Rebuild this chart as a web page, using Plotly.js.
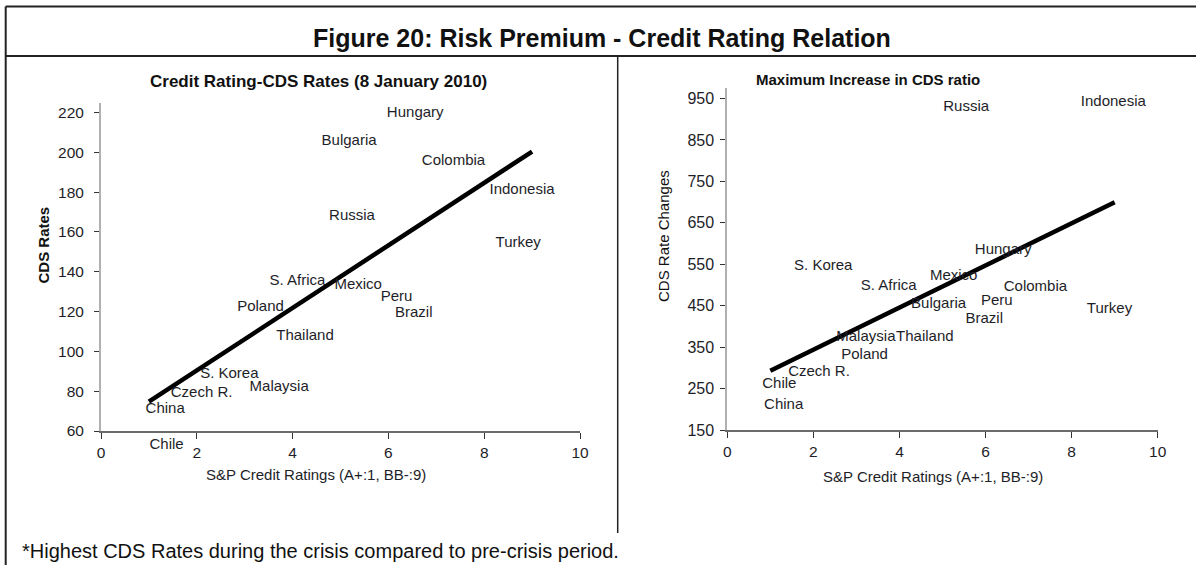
<!DOCTYPE html>
<html>
<head>
<meta charset="utf-8">
<script src="https://cdn.plot.ly/plotly-3.0.1.min.js"></script>
<style>html,body{margin:0;padding:0;background:#fff;}#chart{width:1196px;height:565px;}</style>
</head>
<body>
<div id="chart"></div>
<script>
// ---- Data ----
const countriesLeft = ['Hungary','Bulgaria','Colombia','Indonesia','Russia','Turkey','S. Africa','Mexico','Peru','Brazil','Poland','Thailand','S. Korea','Malaysia','Czech R.','China','Chile'];
const ratingsLeft   = [6.56, 5.18, 7.36, 8.79, 5.24, 8.71, 4.10, 5.37, 6.17, 6.53, 3.33, 4.26, 2.68, 3.72, 2.10, 1.34, 1.37];
const cdsRatesLeft  = [219.6, 205.7, 195.3, 181.1, 168.0, 154.1, 135.0, 133.4, 127.0, 119.1, 122.0, 107.4, 88.6, 82.1, 79.2, 70.9, 53.0];

const countriesRight = ['Russia','Indonesia','Hungary','S. Korea','Mexico','S. Africa','Colombia','Bulgaria','Peru','Turkey','Brazil','Malaysia','Thailand','Poland','Czech R.','Chile','China'];
const ratingsRight   = [5.55, 8.97, 6.41, 2.23, 5.26, 3.75, 7.16, 4.91, 6.26, 8.88, 5.97, 3.22, 4.59, 3.19, 2.13, 1.21, 1.31];
const cdsChangeRight = [928.7, 942, 582.7, 544, 520, 495.8, 494.3, 453.3, 461.3, 442, 417, 373.7, 373.7, 331, 288.3, 261, 210.3];

const trendX      = [1, 9];
const trendLeftY  = [74.7, 200.4];
const trendRightY = [293, 699.5];

const xTickVals      = [0, 2, 4, 6, 8, 10];
const yTickValsLeft  = [60, 80, 100, 120, 140, 160, 180, 200, 220];
const yTickValsRight = [150, 250, 350, 450, 550, 650, 750, 850, 950];

// ---- Layout helpers (pixel -> paper) ----
const W = 1196, H = 565;
const PX = v => v / W;
const PY = v => 1 - v / H;
const FONT = 'Liberation Sans, Arial, Helvetica, sans-serif';
const TXT = '#1e1e28';

// left panel geometry
const L_BOTTOM = 431, L_TOP = 102.6, L_MIN = 60, L_MAX = 225;
const L_SCALE = (L_BOTTOM - L_TOP) / (L_MAX - L_MIN);
const L_EXT = 30; // extra pixels below the axis for labels that sit under it
const L_EXT_MIN = L_MIN - L_EXT / L_SCALE;

const traces = [
  {x: trendX, y: trendLeftY, mode: 'lines', type: 'scatter', line: {color: '#000', width: 4.5},
   xaxis: 'x', yaxis: 'y', showlegend: false},
  {x: ratingsLeft, y: cdsRatesLeft, text: countriesLeft, mode: 'text', type: 'scatter',
   textposition: 'middle center', textfont: {family: FONT, size: 15, color: TXT},
   cliponaxis: false, xaxis: 'x', yaxis: 'y3', hoverinfo: 'text', showlegend: false},
  {x: trendX, y: trendRightY, mode: 'lines', type: 'scatter', line: {color: '#000', width: 4.5},
   xaxis: 'x2', yaxis: 'y2', showlegend: false},
  {x: ratingsRight, y: cdsChangeRight, text: countriesRight, mode: 'text', type: 'scatter',
   textposition: 'middle center', textfont: {family: FONT, size: 15, color: TXT},
   cliponaxis: false, xaxis: 'x2', yaxis: 'y2', hoverinfo: 'text', showlegend: false}
];

const axX = (dom, anchor) => ({
  domain: dom, anchor: anchor, range: [0, 10], tickvals: xTickVals, showgrid: false, zeroline: false,
  showline: true, linecolor: '#6a6a6a', linewidth: 2, ticks: 'outside', ticklen: 6, tickcolor: '#333', tickwidth: 1,
  tickfont: {family: FONT, size: 15.5, color: TXT}, fixedrange: true
});
const axY = (dom, anchor, rng, vals, fs, standoff) => ({
  domain: dom, anchor: anchor, range: rng, tickvals: vals, showgrid: false, zeroline: false,
  showline: true, linecolor: '#b0b0b0', linewidth: 2, ticks: 'outside', ticklen: 5, tickcolor: '#333', tickwidth: 1,
  tickfont: {family: FONT, size: fs, color: TXT}, ticklabelstandoff: standoff, fixedrange: true
});

const layout = {
  width: W, height: H, margin: {l: 0, r: 0, t: 0, b: 0},
  paper_bgcolor: '#fff', plot_bgcolor: 'rgba(0,0,0,0)', showlegend: false,
  xaxis:  axX([PX(101), PX(580)], 'y'),
  yaxis:  axY([PY(L_BOTTOM), PY(L_TOP)], 'x', [L_MIN, L_MAX], yTickValsLeft, 15.5, 7),
  yaxis3: {domain: [PY(L_BOTTOM + L_EXT), PY(L_TOP)], anchor: 'x', range: [L_EXT_MIN, L_MAX],
           visible: false, showgrid: false, zeroline: false, fixedrange: true},
  xaxis2: axX([PX(727.3), PX(1157.7)], 'y2'),
  yaxis2: axY([PY(430), PY(87.5)], 'x2', [150, 976.5], yTickValsRight, 16, 3),
  shapes: [
    {type: 'line', xref: 'paper', yref: 'paper', x0: PX(5.7), x1: 1, y0: PY(6.5), y1: PY(6.5), line: {color: '#222', width: 2}},
    {type: 'line', xref: 'paper', yref: 'paper', x0: PX(5.7), x1: 1, y0: PY(56), y1: PY(56), line: {color: '#222', width: 2}},
    {type: 'line', xref: 'paper', yref: 'paper', x0: PX(5.7), x1: PX(5.7), y0: PY(6.5), y1: 0, line: {color: '#222', width: 2}},
    {type: 'line', xref: 'paper', yref: 'paper', x0: PX(617.7), x1: PX(617.7), y0: PY(56), y1: PY(533), line: {color: '#222', width: 1.5}}
  ],
  annotations: [
    {text: '<b>Figure 20: Risk Premium - Credit Rating Relation</b>', xref: 'paper', yref: 'paper', x: PX(601.5), y: PY(38),
     xanchor: 'center', yanchor: 'middle', showarrow: false, font: {family: FONT, size: 25, color: '#111'}},
    {text: '<b>Credit Rating-CDS Rates (8 January 2010)</b>', xref: 'paper', yref: 'paper', x: PX(318.5), y: PY(81.7),
     xanchor: 'center', yanchor: 'middle', showarrow: false, font: {family: FONT, size: 17, color: '#111'}},
    {text: '<b>Maximum Increase in CDS ratio</b>', xref: 'paper', yref: 'paper', x: PX(868), y: PY(79.3),
     xanchor: 'center', yanchor: 'middle', showarrow: false, font: {family: FONT, size: 15, color: '#111'}},
    {text: '<b>CDS Rates</b>', xref: 'paper', yref: 'paper', x: PX(43), y: PY(244.5), textangle: -90,
     xanchor: 'center', yanchor: 'middle', showarrow: false, font: {family: FONT, size: 15, color: '#111'}},
    {text: 'CDS Rate Changes', xref: 'paper', yref: 'paper', x: PX(664), y: PY(236), textangle: -90,
     xanchor: 'center', yanchor: 'middle', showarrow: false, font: {family: FONT, size: 15, color: '#111'}},
    {text: 'S&amp;P Credit Ratings (A+:1, BB-:9)', xref: 'paper', yref: 'paper', x: PX(316), y: PY(474),
     xanchor: 'center', yanchor: 'middle', showarrow: false, font: {family: FONT, size: 15, color: TXT}},
    {text: 'S&amp;P Credit Ratings (A+:1, BB-:9)', xref: 'paper', yref: 'paper', x: PX(932.5), y: PY(476.7),
     xanchor: 'center', yanchor: 'middle', showarrow: false, font: {family: FONT, size: 15, color: TXT}},
    {text: '*Highest CDS Rates during the crisis compared to pre-crisis period.', xref: 'paper', yref: 'paper', x: PX(20), y: PY(551),
     xanchor: 'left', yanchor: 'middle', showarrow: false, font: {family: FONT, size: 20, color: '#111'}}
  ]
};

Plotly.newPlot('chart', traces, layout, {displayModeBar: false, staticPlot: true});
</script>
</body>
</html>
